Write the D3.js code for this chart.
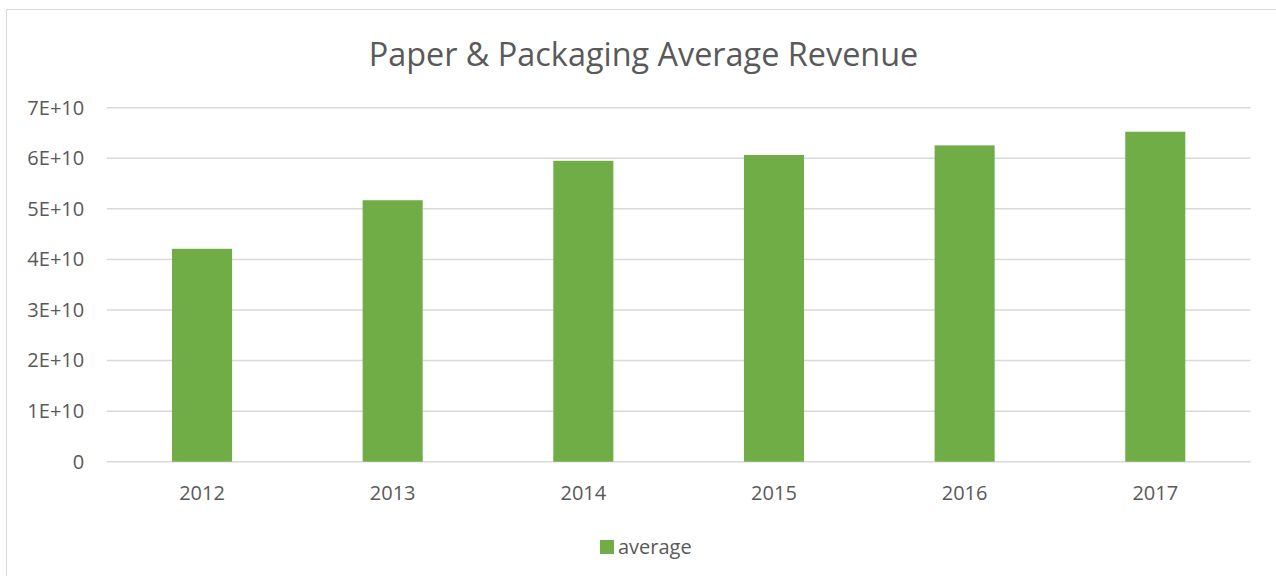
<!DOCTYPE html>
<html>
<head>
<meta charset="utf-8">
<script src="https://cdn.jsdelivr.net/npm/d3@7"></script>
<style>
  html, body { margin: 0; padding: 0; background: #fff; }
  svg { display: block; }
  text { font-family: "Open Sans", "Noto Sans", sans-serif; fill: #595959; }
</style>
</head>
<body>
<svg id="chart" width="1276" height="576"></svg>
<script>
// Average revenue per year (USD)
const years = ["2012", "2013", "2014", "2015", "2016", "2017"];
const averageRevenue = [4.21e10, 5.17e10, 5.95e10, 6.065e10, 6.255e10, 6.525e10];
const yTicks = [0, 1e10, 2e10, 3e10, 4e10, 5e10, 6e10, 7e10];
const yTickLabels = ["0", "1E+10", "2E+10", "3E+10", "4E+10", "5E+10", "6E+10", "7E+10"];
const seriesName = "average";
const chartTitle = "Paper & Packaging Average Revenue";

const W = 1276, H = 576;
const plot = { left: 106.7, right: 1250.6, top: 107.7, bottom: 461.7 };
const barColor = "#70ad47";
const gridColor = "#d9d9d9";

const svg = d3.select("#chart");

// chart area frame
svg.append("rect")
  .attr("x", 6.5).attr("y", 9.5)
  .attr("width", W + 10).attr("height", H + 10)
  .attr("fill", "#fff")
  .attr("stroke", "#d9d9d9")
  .attr("stroke-width", 1);

const x = d3.scaleBand()
  .domain(years)
  .range([plot.left, plot.right])
  .paddingInner(0.685)
  .paddingOuter(0.3425);

const y = d3.scaleLinear()
  .domain([0, 7e10])
  .range([plot.bottom, plot.top]);

// horizontal gridlines
svg.append("g")
  .selectAll("line")
  .data(yTicks)
  .join("line")
  .attr("x1", plot.left).attr("x2", plot.right)
  .attr("y1", d => y(d)).attr("y2", d => y(d))
  .attr("stroke", gridColor)
  .attr("stroke-width", 1.5);

// value axis labels
const yAxis = d3.axisLeft(y)
  .tickValues(yTicks)
  .tickFormat((d, i) => yTickLabels[i])
  .tickSize(0)
  .tickPadding(22.5);
const yg = svg.append("g")
  .attr("transform", `translate(${plot.left},0)`)
  .call(yAxis);
yg.select(".domain").remove();
yg.selectAll("text")
  .style("font-size", "20px")
  .attr("fill", "#595959");

// bars
svg.append("g")
  .selectAll("rect")
  .data(years)
  .join("rect")
  .attr("x", d => x(d))
  .attr("width", x.bandwidth())
  .attr("y", (d, i) => y(averageRevenue[i]))
  .attr("height", (d, i) => y(0) - y(averageRevenue[i]))
  .attr("fill", barColor);

// category axis labels
const xAxis = d3.axisBottom(x).tickSize(0).tickPadding(24.5);
const xg = svg.append("g")
  .attr("transform", `translate(0,${plot.bottom})`)
  .call(xAxis);
xg.select(".domain").remove();
xg.selectAll("text")
  .style("font-size", "20px")
  .attr("fill", "#595959");

// title
svg.append("text")
  .attr("x", 643.5)
  .attr("y", 66)
  .attr("text-anchor", "middle")
  .style("font-size", "32.4px")
  .text(chartTitle);

// legend
const legend = svg.append("g").attr("transform", "translate(600,540)");
legend.append("rect")
  .attr("x", 0).attr("y", 0)
  .attr("width", 14).attr("height", 14)
  .attr("fill", barColor);
legend.append("text")
  .attr("x", 18).attr("y", 7)
  .attr("dy", "0.35em")
  .style("font-size", "20px")
  .text(seriesName);
</script>
</body>
</html>
